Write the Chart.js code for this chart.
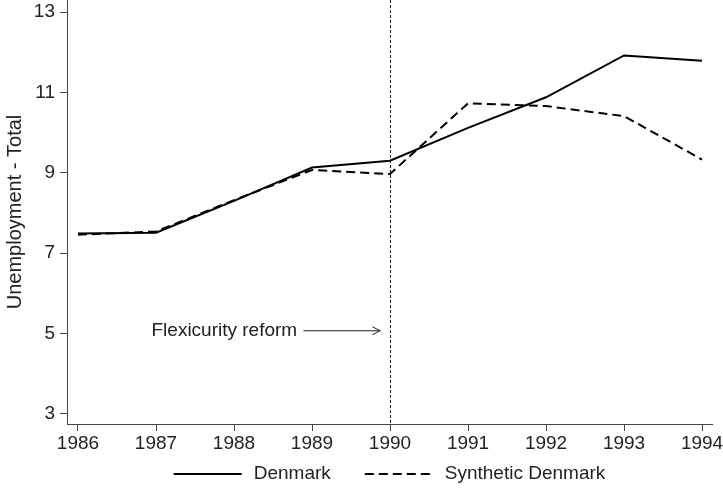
<!DOCTYPE html>
<html>
<head>
<meta charset="utf-8">
<script src="https://cdn.jsdelivr.net/npm/chart.js@4.4.1/dist/chart.umd.min.js"></script>
<style>
  html, body { margin: 0; padding: 0; background: #fff; }
  #wrap { width: 723px; height: 495px; }
</style>
</head>
<body>
<div id="wrap"><canvas id="c" width="723" height="495"></canvas></div>
<script>
// Unemployment, Denmark vs. synthetic control
const years = [1986, 1987, 1988, 1989, 1990, 1991, 1992, 1993, 1994];
const denmark = [7.49, 7.51, 8.30, 9.13, 9.30, 10.12, 10.88, 11.92, 11.79];
const syntheticDenmark = [7.46, 7.54, 8.32, 9.07, 8.97, 10.73, 10.66, 10.41, 9.33];
const yTicks = [3, 5, 7, 9, 11, 13];
const reformYear = 1990;
const reformLabel = 'Flexicurity reform';

const FONT = '"Liberation Sans", Arial, Helvetica, sans-serif';
const FSIZE = 19;
const INK = '#222';
const AXIS = '#444';

const toPoints = vals => years.map((yr, i) => ({ x: yr, y: vals[i] }));

// Reform marker: vertical dashed line plus labelled arrow
const reformMarker = {
  id: 'reformMarker',
  afterDatasetsDraw(chart) {
    const { ctx, chartArea, scales } = chart;
    const x = scales.x.getPixelForValue(reformYear);
    ctx.save();
    ctx.strokeStyle = '#111';
    ctx.lineWidth = 1;
    ctx.setLineDash([3, 2]);
    ctx.beginPath();
    ctx.moveTo(x + 0.5, chartArea.top);
    ctx.lineTo(x + 0.5, chartArea.bottom);
    ctx.stroke();
    ctx.setLineDash([]);

    const ay = scales.y.getPixelForValue(5.07);
    const ax0 = scales.x.getPixelForValue(1988.89);
    const ax1 = scales.x.getPixelForValue(1989.875);
    ctx.strokeStyle = '#222';
    ctx.lineWidth = 1;
    ctx.beginPath();
    ctx.moveTo(ax0, ay);
    ctx.lineTo(ax1, ay);
    ctx.moveTo(ax1 - 8, ay - 4);
    ctx.lineTo(ax1, ay);
    ctx.lineTo(ax1 - 8, ay + 4);
    ctx.stroke();

    ctx.fillStyle = INK;
    ctx.font = FSIZE + 'px ' + FONT;
    ctx.textAlign = 'right';
    ctx.textBaseline = 'middle';
    ctx.fillText(reformLabel, scales.x.getPixelForValue(1988.81), ay);
    ctx.restore();
  }
};

// Legend row under the axis: line sample followed by the series name
const lineLegend = {
  id: 'lineLegend',
  afterDraw(chart) {
    const { ctx, chartArea } = chart;
    const sample = 68, textGap = 12, itemGap = 34;
    ctx.save();
    ctx.font = FSIZE + 'px ' + FONT;
    const items = chart.data.datasets.map(ds => ({
      label: ds.label,
      dash: ds.borderDash || [],
      w: ctx.measureText(ds.label).width
    }));
    const total = items.reduce((s, it) => s + sample + textGap + it.w, 0) + itemGap * (items.length - 1);
    let x = (chartArea.left + chartArea.right) / 2 - total / 2;
    const y = 474;
    items.forEach(it => {
      ctx.strokeStyle = '#000';
      ctx.lineWidth = 2;
      ctx.setLineDash(it.dash);
      ctx.beginPath();
      ctx.moveTo(x, y);
      ctx.lineTo(x + sample, y);
      ctx.stroke();
      ctx.setLineDash([]);
      ctx.fillStyle = INK;
      ctx.textAlign = 'left';
      ctx.textBaseline = 'middle';
      ctx.fillText(it.label, x + sample + textGap, y);
      x += sample + textGap + it.w + itemGap;
    });
    ctx.restore();
  }
};

new Chart(document.getElementById('c'), {
  type: 'line',
  data: {
    datasets: [
      {
        label: 'Denmark',
        data: toPoints(denmark),
        borderColor: '#000',
        borderWidth: 2,
        pointRadius: 0,
        tension: 0
      },
      {
        label: 'Synthetic Denmark',
        data: toPoints(syntheticDenmark),
        borderColor: '#000',
        borderWidth: 2,
        borderDash: [9, 5],
        pointRadius: 0,
        tension: 0
      }
    ]
  },
  options: {
    responsive: false,
    animation: false,
    devicePixelRatio: 1,
    layout: { padding: { top: 0, right: 11, left: 0, bottom: 42 } },
    plugins: {
      tooltip: { enabled: false },
      legend: { display: false }
    },
    scales: {
      x: {
        type: 'linear',
        min: 1985.859,
        max: 1994.128,
        afterBuildTicks: s => { s.ticks = years.map(v => ({ value: v })); },
        afterFit: s => { s.height = 29; s.paddingLeft = 0; s.paddingRight = 0; },
        grid: { display: true, drawOnChartArea: false, drawTicks: true, tickLength: 7, color: AXIS },
        border: { display: true, color: AXIS, width: 1 },
        ticks: {
          color: INK,
          padding: 1,
          maxRotation: 0,
          autoSkip: false,
          font: { family: FONT, size: FSIZE },
          callback: v => String(v)
        }
      },
      y: {
        min: 2.75,
        max: 13.3,
        afterBuildTicks: s => { s.ticks = yTicks.map(v => ({ value: v })); },
        afterFit: s => { s.width = 67; s.paddingTop = 0; s.paddingBottom = 0; },
        grid: { display: true, drawOnChartArea: false, drawTicks: true, tickLength: 7, color: AXIS },
        border: { display: true, color: AXIS, width: 1 },
        title: {
          display: true,
          text: 'Unemployment - Total',
          color: INK,
          font: { family: FONT, size: 20 },
          padding: { top: 3, bottom: 0 }
        },
        ticks: {
          color: INK,
          padding: 5,
          font: { family: FONT, size: FSIZE },
          callback: v => String(v)
        }
      }
    }
  },
  plugins: [reformMarker, lineLegend]
});
</script>
</body>
</html>
